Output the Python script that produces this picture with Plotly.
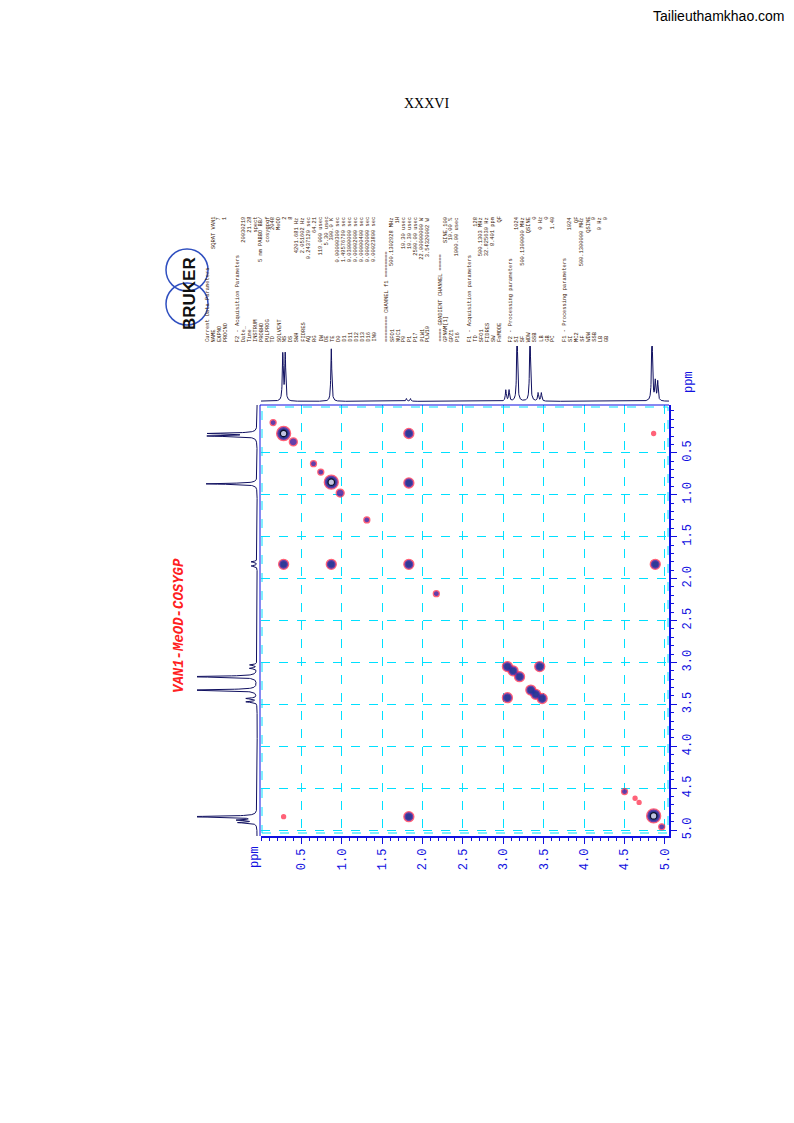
import numpy as np
import plotly.graph_objects as go

W, H = 794, 1123
OFF = 7
def px(x): return (x - OFF) / W
def py(y): return 1 - (y - OFF) / H

# ---- data ----
peak_f2 = [0.15, 0.28, 0.40, 1.83, 4.86, 0.65, 0.74, 0.87, 0.98, 1.83, 1.31, 0.28, 0.87, 1.83, 4.88, 2.17,
           3.05, 3.12, 3.20, 3.05, 3.34, 3.45, 3.40, 3.48, 4.50, 4.63, 4.68, 4.86, 4.96, 0.28, 1.83]
peak_f1 = [0.14, 0.27, 0.37, 0.27, 0.27, 0.63, 0.73, 0.85, 0.98, 0.86, 1.30, 1.83, 1.83, 1.83, 1.83, 2.18,
           3.05, 3.10, 3.17, 3.42, 3.33, 3.05, 3.38, 3.43, 4.54, 4.62, 4.67, 4.83, 4.96, 4.84, 4.84]
peak_lvl = [1, 4, 2, 3, 0, 1, 1, 4, 2, 3, 1, 3, 3, 3, 3, 1,
            3, 3, 3, 3, 3, 3, 3, 3, 1, 0, 0, 4, 1, 0, 3]

proj_ppm = [0.27, 0.30, 0.87, 1.80, 1.85, 3.03, 3.07, 3.17, 3.33, 3.43, 3.47, 4.84, 4.88, 4.91]
proj_top = [0.85, 0.85, 0.95, 0.05, 0.05, 0.2, 0.2, 1.3, 1.3, 0.15, 0.15, 1.3, 0.35, 0.35]
proj_left = [0.8, 0.8, 0.85, 0.1, 0.1, 0.12, 0.12, 1.2, 1.2, 0.18, 0.18, 1.2, 0.3, 0.3]

ticks = [0.5, 1.0, 1.5, 2.0, 2.5, 3.0, 3.5, 4.0, 4.5, 5.0]

params = [
    ("Current Data Parameters", ""), ("NAME", "SQRAT VAN1"), ("EXPNO", "7"), ("PROCNO", "1"), ("", ""),
    ("F2 - Acquisition Parameters", ""), ("Date_", "20030219"), ("Time", "21.28"), ("INSTRUM", "spect"),
    ("PROBHD", "5 mm PABBO BB/"), ("PULPROG", "cosygpqf"), ("TD", "2048"), ("SOLVENT", "MeOD"),
    ("NS", "2"), ("DS", "8"), ("SWH", "4201.681 Hz"), ("FIDRES", "2.051602 Hz"), ("AQ", "0.2437120 sec"),
    ("RG", "64.21"), ("DW", "119.000 usec"), ("DE", "5.30 usec"), ("TE", "300.0 K"),
    ("D0", "0.00000300 sec"), ("D1", "1.49576790 sec"), ("D11", "0.03000000 sec"),
    ("D12", "0.00002000 sec"), ("D13", "0.00000400 sec"), ("D16", "0.00020000 sec"),
    ("IN0", "0.00023800 sec"), ("", ""),
    ("======== CHANNEL f1 ========", ""), ("SFO1", "500.1302928 MHz"), ("NUC1", "1H"),
    ("P0", "10.30 usec"), ("P1", "10.30 usec"), ("P17", "2500.00 usec"), ("PLW1", "22.00000000 W"),
    ("PLW10", "3.54320002 W"), ("", ""),
    ("==== GRADIENT CHANNEL =====", ""), ("GPNAM[1]", "SINE.100"), ("GPZ1", "10.00 %"),
    ("P16", "1000.00 usec"), ("", ""),
    ("F1 - Acquisition parameters", ""), ("TD", "128"), ("SFO1", "500.1303 MHz"),
    ("FIDRES", "32.825630 Hz"), ("SW", "8.401 ppm"), ("FnMODE", "QF"), ("", ""),
    ("F2 - Processing parameters", ""), ("SI", "1024"), ("SF", "500.1300000 MHz"), ("WDW", "QSINE"),
    ("SSB", "0"), ("LB", "0 Hz"), ("GB", "0"), ("PC", "1.40"), ("", ""),
    ("F1 - Processing parameters", ""), ("SI", "1024"), ("MC2", "QF"), ("SF", "500.1300000 MHz"),
    ("WDW", "QSINE"), ("SSB", "0"), ("LB", "0 Hz"), ("GB", "0"),
]

fig = go.Figure()

ring_cols = ["#ff2040", "#2030c0", "#1a3a90", "#000000"]
base_size = {0: 4, 1: 6, 2: 8, 3: 10, 4: 14}
for k, col in enumerate(ring_cols):
    xs, ys, ss = [], [], []
    for a, b, l in zip(peak_f2, peak_f1, peak_lvl):
        if k == 0 or (l >= 1 and k == 1) or (l >= 3 and k == 2) or (l >= 4 and k == 3):
            xs.append(a); ys.append(b); ss.append(base_size[l] - k * 2.5)
    fig.add_trace(go.Scatter(x=xs, y=ys, mode="markers", xaxis="x", yaxis="y",
                             marker=dict(size=ss, color="white" if k == 3 else col,
                                         line=dict(color=col, width=1.3)),
                             showlegend=False, hoverinfo="skip"))

grid = np.linspace(-0.1, 5.2, 3000)
def spec(hts, w=0.007):
    s = np.zeros_like(grid)
    for p, h in zip(proj_ppm, hts):
        s += h * w**2 / ((grid - p)**2 + w**2)
    return s

fig.add_trace(go.Scatter(x=grid, y=spec(proj_top), xaxis="x2", yaxis="y2", mode="lines",
                         line=dict(color="#101060", width=1), showlegend=False, hoverinfo="skip"))
fig.add_trace(go.Scatter(x=spec(proj_left), y=grid, xaxis="x3", yaxis="y3", mode="lines",
                         line=dict(color="#101060", width=1), showlegend=False, hoverinfo="skip"))

XR = [0.0, 5.05]
YR = [5.07, -0.07]
axfont = dict(family="Liberation Mono", size=12, color="#1010e0")
fig.update_layout(
    width=W, height=H, margin=dict(l=0, r=0, t=0, b=0, autoexpand=False),
    paper_bgcolor="white", plot_bgcolor="white",
    xaxis=dict(domain=[px(260), px(668)], range=XR, tickvals=ticks, ticktext=[f"{t:.1f}" for t in ticks],
               tickangle=-90, tickfont=axfont, ticks="outside", ticklen=6, tickcolor="#1010e0",
               showline=True, linecolor="#1010e0", linewidth=1.5, automargin=False,
               showgrid=True, gridcolor="#00e0ff", griddash="dash", gridwidth=1, zeroline=False,
               minor=dict(dtick=0.1, ticks="outside", ticklen=3, tickcolor="#1010e0", showgrid=False),
               anchor="y"),
    yaxis=dict(domain=[py(835), py(404)], range=YR, side="right", tickvals=ticks,
               ticktext=[f"{t:.1f}" for t in ticks], tickangle=-90, tickfont=axfont, automargin=False,
               ticks="outside", ticklen=6, tickcolor="#1010e0", showline=True, linecolor="#1010e0",
               linewidth=1.5, showgrid=True, gridcolor="#00e0ff", griddash="dash", zeroline=False,
               minor=dict(dtick=0.1, ticks="outside", ticklen=3, tickcolor="#1010e0", showgrid=False),
               anchor="x"),
    xaxis2=dict(domain=[px(260), px(668)], range=XR, visible=False, anchor="y2"),
    yaxis2=dict(domain=[py(402), py(345)], range=[-0.03, 1.0], visible=False, anchor="x2"),
    xaxis3=dict(domain=[px(196), px(258)], range=[1.0, -0.03], visible=False, anchor="y3"),
    yaxis3=dict(domain=[py(835), py(404)], range=YR, visible=False, anchor="x3"),
)

fig.add_shape(type="rect", xref="paper", yref="paper", x0=px(261), x1=px(667), y0=py(832), y1=py(406),
              line=dict(color="#00e0ff", width=1, dash="dash"))
fig.add_shape(type="line", xref="paper", yref="paper", x0=px(259), x1=px(259), y0=py(835), y1=py(404),
              line=dict(color="#1010e0", width=1))
fig.add_shape(type="line", xref="paper", yref="paper", x0=px(259), x1=px(668), y0=py(404), y1=py(404),
              line=dict(color="#1010e0", width=1))

P = dict(xref="paper", yref="paper", showarrow=False, xanchor="center", yanchor="middle")
ann = []
ann.append(dict(P, x=px(786), y=py(15), text="Tailieuthamkhao.com", xanchor="right",
                font=dict(family="Liberation Sans", size=14, color="black")))
ann.append(dict(P, x=px(425), y=py(103), text="XXXVI",
                font=dict(family="Liberation Serif", size=14, color="black")))
ann.append(dict(P, x=px(178), y=py(625), text="<i><b>VAN1-MeOD-COSYGP</b></i>", textangle=-90,
                font=dict(family="Liberation Mono", size=14, color="#ff2020")))
ann.append(dict(P, x=px(254), y=py(856), text="ppm", textangle=-90, font=axfont))
ann.append(dict(P, x=px(688), y=py(381), text="ppm", textangle=-90, font=axfont))
ann.append(dict(P, x=px(188), y=py(293), text="<b>BRUKER</b>", textangle=-90,
                font=dict(family="Liberation Sans", size=17, color="#111")))

pfont = dict(family="Liberation Mono", size=5.4, color="#3a2008")
for i, (nm, val) in enumerate(params):
    x = px(207 + i * 5.95)
    if nm:
        ann.append(dict(P, x=x, y=py(343), text=nm, textangle=-90, yanchor="bottom", font=pfont))
    if val:
        ann.append(dict(P, x=x, y=py(214), text=val, textangle=-90, yanchor="top", font=pfont))
fig.update_layout(annotations=ann)

for (x0, y0, x1, y1) in [(165, 248, 207, 290), (165, 282, 207, 324)]:
    fig.add_shape(type="circle", xref="paper", yref="paper", x0=px(x0), x1=px(x1), y0=py(y1), y1=py(y0),
                  line=dict(color="#3050c0", width=1.5))

fig.write_html("out.html")
